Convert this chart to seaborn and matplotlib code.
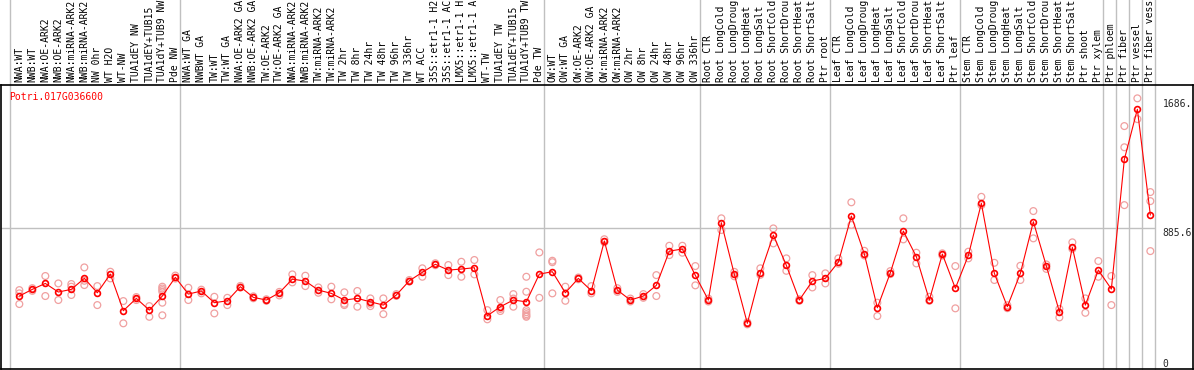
import numpy as np
import pandas as pd
import matplotlib
matplotlib.use("Agg")
import matplotlib.pyplot as plt
import matplotlib.transforms as mtransforms
import seaborn as sns

# sample labels as shown (cut to 14 characters in the original)
labels = [
    "NWA:WT", "NWB:WT", "NWA:OE-ARK2", "NWB:OE-ARK2", "NWA:miRNA-ARK2",
    "NWB:miRNA-ARK2", "NW 0hr", "WT H2O", "WT-NW", "TUA1dEY NW",
    "TUA1dEY+TUB15", "TUA1dY+TUB9 NW", "Pde NW",
    "NWA:WT GA", "NWBWT GA", "TW:WT", "TW:WT GA", "NWA:OE-ARK2 GA",
    "NWB:OE-ARK2 GA", "TW:OE-ARK2", "TW:OE-ARK2 GA", "NWA:miRNA-ARK2",
    "NWB:miRNA-ARK2", "TW:miRNA-ARK2", "TW:miRNA-ARK2", "TW 2hr", "TW 8hr",
    "TW 24hr", "TW 48hr", "TW 96hr", "TW 336hr", "WT ACC",
    "35S::etr1-1 H2", "35S::etr1-1 AC", "LMX5::etr1-1 H", "LMX5::etr1-1 A",
    "WT-TW", "TUA1dEY TW", "TUA1dEY+TUB15", "TUA1dY+TUB9 TW", "Pde TW",
    "OW:WT", "OW:WT GA", "OW:OE-ARK2", "OW:OE-ARK2 GA", "OW:miRNA-ARK2",
    "OW:miRNA-ARK2", "OW 2hr", "OW 8hr", "OW 24hr", "OW 48hr", "OW 96hr",
    "OW 336hr",
    "Root CTR", "Root LongCold", "Root LongDroug", "Root LongHeat",
    "Root LongSalt", "Root ShortCold", "Root ShortDrou", "Root ShortHeat",
    "Root ShortSalt", "Ptr root",
    "Leaf CTR", "Leaf LongCold", "Leaf LongDroug", "Leaf LongHeat",
    "Leaf LongSalt", "Leaf ShortCold", "Leaf ShortDrou", "Leaf ShortHeat",
    "Leaf ShortSalt", "Ptr leaf",
    "Stem CTR", "Stem LongCold", "Stem LongDroug", "Stem LongHeat",
    "Stem LongSalt", "Stem ShortCold", "Stem ShortDrou", "Stem ShortHeat",
    "Stem ShortSalt", "Ptr shoot",
    "Ptr xylem", "Ptr phloem", "Ptr fiber", "Ptr vessel", "Ptr fiber vess",
]

means = [
    427, 472, 512, 454, 472, 546, 449, 575, 328, 411, 332, 427, 553,
    440, 461, 382, 395, 490, 418, 400, 449, 541, 528, 467, 445, 400, 411,
    388, 366, 434, 530, 587, 641, 602, 609, 618, 294, 355, 400, 388, 575,
    591, 449, 546, 463, 798, 467, 400, 427, 499, 730, 744, 566,
    400, 921, 573, 243, 580, 838, 634, 400, 528, 546,
    656, 966, 710, 348, 584, 865, 692, 400, 710, 479,
    701, 1052, 580, 355, 580, 928, 629, 321, 755, 366,
    602, 474, 1349, 1686, 973,
]

replicates = [
    [467, 445, 373], [480, 462], [562, 427], [512, 400], [508, 434, 490],
    [620, 501, 530], [494, 366], [591, 546], [393, 243], [420, 400],
    [359, 287], [490, 478, 467, 456, 382, 297], [565, 545],
    [483, 400], [445, 470], [422, 310], [415, 366], [495, 485], [425, 412],
    [405, 395], [431, 455], [573, 519], [564, 494], [485, 449], [490, 405],
    [452, 366, 375], [461, 355], [411, 359, 375], [411, 305], [440, 428],
    [535, 525], [614, 557], [648, 635], [636, 568], [658, 557], [670, 573],
    [332, 270], [400, 326, 340], [440, 355, 410],
    [557, 456, 332, 318, 305, 295, 287], [721, 415],
    [665, 445, 655], [490, 395], [552, 540], [494, 445], [810, 790],
    [480, 455], [390, 410], [440, 415], [568, 427], [766, 703], [766, 719],
    [629, 499],
    [410, 390], [951, 872], [590, 560], [250, 236], [614, 570], [883, 782],
    [681, 597], [405, 395], [568, 485], [580, 512],
    [681, 645], [1059, 906], [732, 700], [382, 292], [595, 575],
    [951, 809], [719, 647], [422, 395], [715, 700], [629, 344],
    [726, 681], [1096, 1040], [651, 535], [365, 345], [631, 535],
    [1000, 816], [640, 610], [340, 283], [789, 745], [411, 314],
    [663, 557], [562, 366], [1573, 1430, 1040], [1760, 1620],
    [1128, 1067, 730],
]

# group boundaries (after these sample indices)
group_ends = [12, 40, 52, 62, 72, 83, 84, 85, 86, 87]
tick_vals = [0, 885.6, 1686]
tick_text = ["0", "885.6", "1686."]
gene = "Potri.017G036600"

df_mean = pd.DataFrame({"idx": np.arange(len(means)), "value": means})
df_rep = pd.DataFrame(
    [(i, v) for i, reps in enumerate(replicates) for v in reps],
    columns=["idx", "value"],
)

sns.set_style("white")
plt.rcParams["font.family"] = ["DejaVu Sans Mono", "DejaVu Sans"]

fig = plt.figure(figsize=(11.94, 3.70), dpi=100)
ax = fig.add_axes([1 / 1194, 1 / 370, 1192 / 1194, 284 / 370])

sns.scatterplot(data=df_rep, x="idx", y="value", ax=ax, marker="o",
                s=24, facecolors="none", edgecolors="#f0a0a0",
                linewidths=0.9, zorder=3)
sns.lineplot(data=df_mean, x="idx", y="value", ax=ax, color="red",
             lw=0.8, marker="o", markersize=4.2, markerfacecolor="none",
             markeredgecolor="red", markeredgewidth=1.2, zorder=4)

ax.set_xlim(-1.41, 90.28)
ax.set_ylim(-65, 1850)

# vertical group lines through the label area
gx = [-0.72] + [g + 0.38 for g in group_ends]
for x in gx:
    ax.axvline(x, ymin=0, ymax=1.31, color="#c0c0c0", lw=1,
               clip_on=False, zorder=1)
ax.hlines(885.6, -1.41, gx[-1], color="#c0c0c0", lw=1, zorder=1)

trans = mtransforms.blended_transform_factory(ax.transData, ax.transAxes)
for i, lab in enumerate(labels):
    ax.text(i, 1.0106, lab, transform=trans, rotation=90, ha="center",
            va="bottom", fontsize=7, color="black")

ax.text(87.95, tick_vals[0], tick_text[0], ha="left", va="top", fontsize=7)
ax.text(87.95, tick_vals[1], tick_text[1], ha="left", va="top", fontsize=7)
ax.text(87.95, tick_vals[2], tick_text[2], ha="left", va="bottom", fontsize=7)

ax.text(-0.8, 1800, gene, ha="left", va="top", fontsize=7, color="red")

ax.set_xticks([])
ax.set_yticks([])
ax.set_xlabel("")
ax.set_ylabel("")
for sp in ax.spines.values():
    sp.set_visible(True)
    sp.set_color("black")
    sp.set_linewidth(1.2)

fig.savefig("out.png", dpi=100)
